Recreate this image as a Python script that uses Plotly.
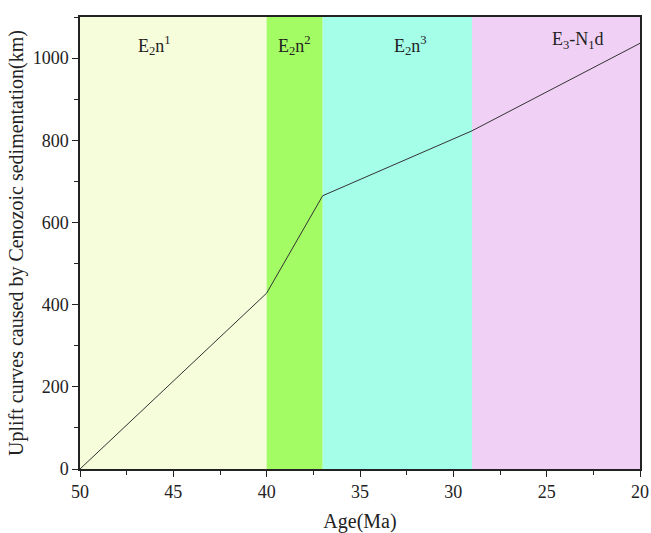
import plotly.graph_objects as go

age = [50, 40, 37, 29, 20]
uplift = [0, 428, 665, 823, 1036]

stage_names = ["E<sub>2</sub>n<sup>1</sup>", "E<sub>2</sub>n<sup>2</sup>", "E<sub>2</sub>n<sup>3</sup>", "E<sub>3</sub>-N<sub>1</sub>d"]
stage_start = [50, 40, 37, 29]
stage_end = [40, 37, 29, 20]
stage_colors = ["#F5FDDB", "#A4FC64", "#A4FEE8", "#F0D0F5"]
label_x = [46, 38.5, 32.3, 23.3]
label_y = [1030, 1030, 1030, 1042]

FONT = "Liberation Serif, Times New Roman, serif"

fig = go.Figure()
for s, e, c in zip(stage_start, stage_end, stage_colors):
    fig.add_shape(type="rect", x0=s, x1=e, y0=0, y1=1100, xref="x", yref="y",
                  fillcolor=c, line_width=0, layer="below")
for n, x, y in zip(stage_names, label_x, label_y):
    fig.add_annotation(x=x, y=y, text=n, showarrow=False, font=dict(family=FONT, size=18, color="#222"))

fig.add_trace(go.Scatter(x=age, y=uplift, mode="lines", line=dict(color="#333", width=1), showlegend=False))

fig.update_layout(
    width=651, height=533,
    margin=dict(l=80, r=11, t=17, b=64, autoexpand=False),
    paper_bgcolor="white", plot_bgcolor="white",
    font=dict(family=FONT, size=18, color="#222"),
    xaxis=dict(range=[50, 20], tickvals=[50, 45, 40, 35, 30, 25, 20], ticks="outside", ticklen=6,
               tickcolor="#222", showline=True, linecolor="#222", linewidth=1.5, mirror=True,
               showgrid=False, zeroline=False, automargin=False,
               tickfont=dict(family=FONT, size=18, color="#222"),
               minor=dict(dtick=2.5, ticks="outside", ticklen=4, tickcolor="#222"),
               title=dict(text="Age(Ma)", standoff=13, font=dict(family=FONT, size=20, color="#222"))),
    yaxis=dict(range=[0, 1100], tickvals=[0, 200, 400, 600, 800, 1000], ticks="outside", ticklen=6,
               tickcolor="#222", showline=True, linecolor="#222", linewidth=1.5, mirror=True,
               showgrid=False, zeroline=False, automargin=False,
               tickfont=dict(family=FONT, size=18, color="#222"),
               minor=dict(dtick=100, ticks="outside", ticklen=4, tickcolor="#222"),
               title=dict(text="Uplift curves caused by Cenozoic sedimentation(km)", standoff=4,
                          font=dict(family=FONT, size=20, color="#222"))),
)

fig.write_html("out.html")
